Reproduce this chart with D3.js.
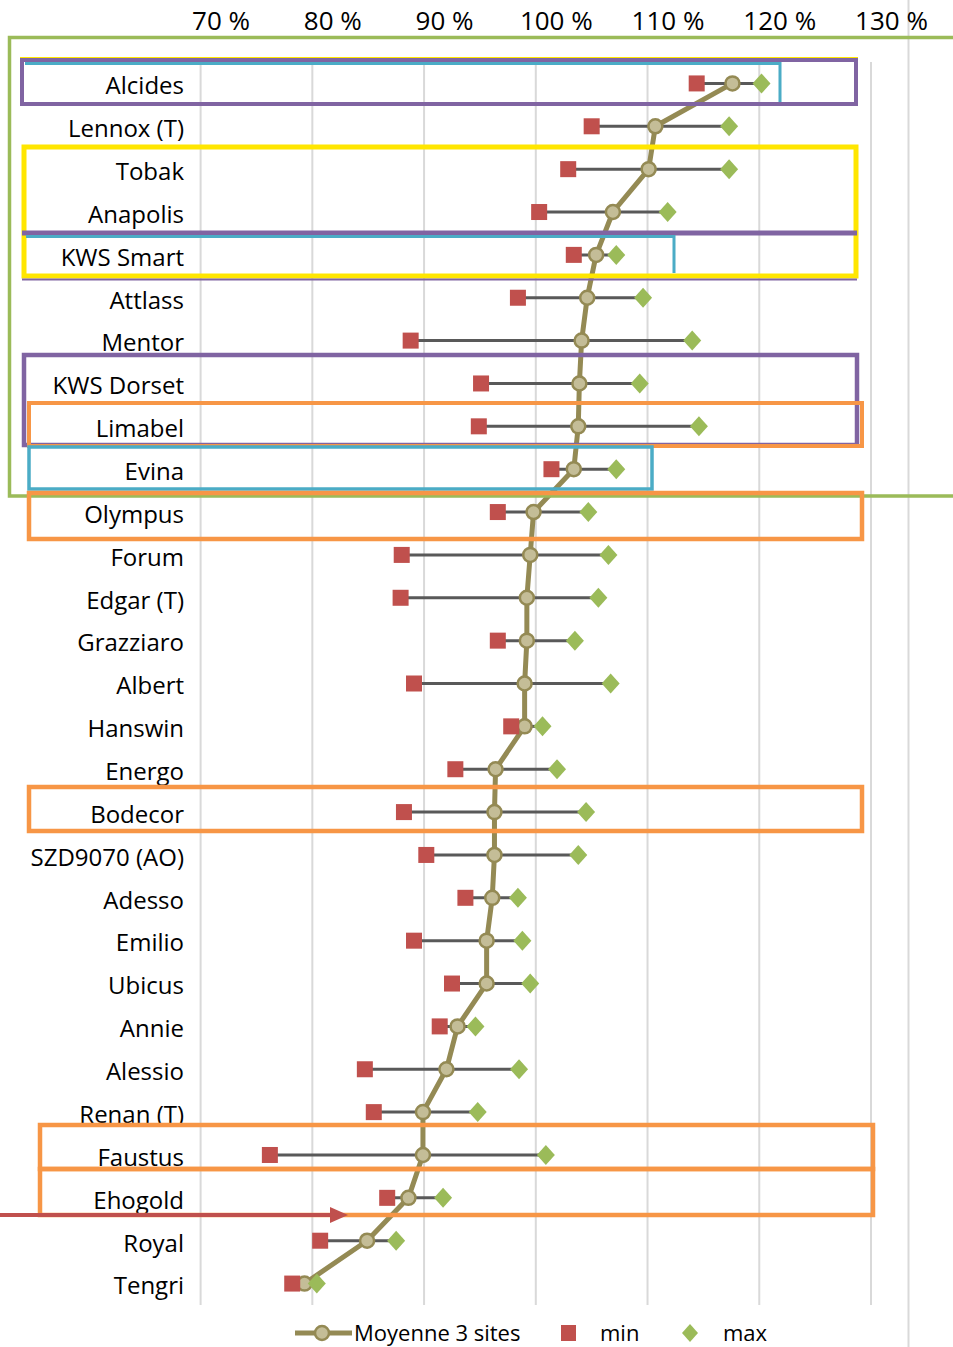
<!DOCTYPE html>
<html><head><meta charset="utf-8">
<script src="https://cdn.jsdelivr.net/npm/d3@7/dist/d3.min.js"></script>
<style>
html,body{margin:0;padding:0;background:#fff;}
svg{display:block;}
</style></head>
<body>
<script>
const varieties = ["Alcides","Lennox (T)","Tobak","Anapolis","KWS Smart","Attlass","Mentor","KWS Dorset","Limabel","Evina","Olympus","Forum","Edgar (T)","Grazziaro","Albert","Hanswin","Energo","Bodecor","SZD9070 (AO)","Adesso","Emilio","Ubicus","Annie","Alessio","Renan (T)","Faustus","Ehogold","Royal","Tengri"];
const moyenne = [117.6,110.7,110.1,106.9,105.4,104.6,104.1,103.9,103.8,103.4,99.8,99.5,99.2,99.2,99.0,99.0,96.4,96.3,96.3,96.1,95.6,95.6,93.0,92.0,89.9,89.9,88.6,84.9,79.3];
const minVals = [114.4,105.0,102.9,100.3,103.4,98.4,88.8,95.1,94.9,101.4,96.6,88.0,87.9,96.6,89.1,97.8,92.8,88.2,90.2,93.7,89.1,92.5,91.4,84.7,85.5,76.2,86.7,80.7,78.2];
const maxVals = [120.2,117.3,117.3,111.8,107.2,109.6,114.0,109.3,114.6,107.2,104.7,106.5,105.6,103.5,106.7,100.6,101.9,104.5,103.8,98.4,98.8,99.5,94.6,98.5,94.8,100.9,91.7,87.5,80.4];
const tickValues = [70,80,90,100,110,120,130];
const tickLabels = ["70  %","80 %","90 %","100  %","110 %","120 %","130 %"];
const legendLabels = ["Moyenne 3 sites","min","max"];

const W = 953, H = 1347;
const svg = d3.select("body").append("svg").attr("width", W).attr("height", H);

const x = d3.scaleLinear().domain([70,130]).range([200.6, 871]);
const y = d3.scaleBand().domain(varieties).range([62, 1305]);
const yc = d => y(d) + y.bandwidth()/2;

const FONT = "'Liberation Sans Narrow','Open Sans',sans-serif";

// chart area right border
svg.append("line").attr("x1",908.5).attr("x2",908.5).attr("y1",0).attr("y2",H)
  .attr("stroke","#d9d9d9").attr("stroke-width",2);

// gridlines
svg.append("g").selectAll("line").data(tickValues).join("line")
  .attr("x1",d=>x(d)).attr("x2",d=>x(d)).attr("y1",62).attr("y2",1305)
  .attr("stroke","#d9d9d9").attr("stroke-width",2);

// top axis labels
const axis = d3.axisTop(x).tickValues(tickValues).tickSize(0).tickFormat((d,i)=>tickLabels[i]);
const ag = svg.append("g").attr("transform","translate(20,30)").call(axis);
ag.select(".domain").remove();
ag.selectAll("text").attr("font-family",FONT).attr("font-size",26).attr("fill","#000").attr("dy",0).attr("y",0);

// category labels
const yAxis = d3.axisLeft(y).tickSize(0);
const yg = svg.append("g").attr("transform","translate(184,0)").call(yAxis);
yg.select(".domain").remove();
yg.selectAll("text").attr("font-family",FONT).attr("font-size",24).attr("fill","#000").attr("x",0).attr("dy","0.45em");

const rows = varieties.map((v,i)=>({v, m:moyenne[i], lo:minVals[i], hi:maxVals[i]}));

// min-max connector
svg.append("g").selectAll("line").data(rows).join("line")
  .attr("x1",d=>x(d.lo)).attr("x2",d=>x(d.hi)).attr("y1",d=>yc(d.v)).attr("y2",d=>yc(d.v))
  .attr("stroke","#595959").attr("stroke-width",3);

// mean line
const line = d3.line().x(d=>x(d.m)).y(d=>yc(d.v));
svg.append("path").datum(rows).attr("d",line).attr("fill","none")
  .attr("stroke","#948a54").attr("stroke-width",5).attr("stroke-linejoin","round");

svg.append("g").selectAll("circle").data(rows).join("circle")
  .attr("cx",d=>x(d.m)).attr("cy",d=>yc(d.v)).attr("r",7)
  .attr("fill","#c4bd97").attr("stroke","#948a54").attr("stroke-width",2.5);

// min squares
svg.append("g").selectAll("rect").data(rows).join("rect")
  .attr("x",d=>x(d.lo)-8).attr("y",d=>yc(d.v)-8).attr("width",16).attr("height",16)
  .attr("fill","#c0504d");

// max diamonds
svg.append("g").selectAll("path").data(rows).join("path")
  .attr("d",d=>{const cx=x(d.hi), cy=yc(d.v); return `M${cx},${cy-10}L${cx+9},${cy}L${cx},${cy+10}L${cx-9},${cy}Z`;})
  .attr("fill","#9bbb59");

// legend
const lg = svg.append("g").attr("transform","translate(0,1333)");
lg.append("line").attr("x1",295).attr("x2",352).attr("y1",0).attr("y2",0).attr("stroke","#948a54").attr("stroke-width",5);
lg.append("circle").attr("cx",322).attr("cy",0).attr("r",7).attr("fill","#c4bd97").attr("stroke","#948a54").attr("stroke-width",2.5);
lg.append("text").attr("x",354).attr("y",8).text(legendLabels[0]).attr("font-family",FONT).attr("font-size",22);
lg.append("rect").attr("x",561).attr("y",-8).attr("width",15).attr("height",16).attr("fill","#c0504d");
lg.append("text").attr("x",600).attr("y",8).text(legendLabels[1]).attr("font-family",FONT).attr("font-size",22);
lg.append("path").attr("d","M690,-9L698,0L690,9L682,0Z").attr("fill","#9bbb59");
lg.append("text").attr("x",723).attr("y",8).text(legendLabels[2]).attr("font-family",FONT).attr("font-size",22);

// annotation overlays
const ann = svg.append("g").attr("fill","none");
function box(x0,y0,x1,y1,col,w){ann.append("rect").attr("x",x0).attr("y",y0).attr("width",x1-x0).attr("height",y1-y0).attr("stroke",col).attr("stroke-width",w);}
const GREEN="#9bbb59", PURPLE="#8064a2", YELLOW="#ffe600", CYAN="#4bacc6", ORANGE="#f79646";
// green
ann.append("path").attr("d","M960,37.5L9.5,37.5L9.5,496L960,496").attr("stroke",GREEN).attr("stroke-width",3.5);
// Alcides
box(21,58,857,104,YELLOW,2);
box(22,60,856,104,PURPLE,4);
ann.append("path").attr("d","M25,63.5L780,63.5L780,102").attr("stroke",CYAN).attr("stroke-width",3);
// Tobak/Anapolis/KWS Smart
box(24,147,856,276,YELLOW,5);
ann.append("line").attr("x1",22).attr("x2",857).attr("y1",233).attr("y2",233).attr("stroke",PURPLE).attr("stroke-width",5);
ann.append("line").attr("x1",22).attr("x2",857).attr("y1",279.5).attr("y2",279.5).attr("stroke",PURPLE).attr("stroke-width",2);
ann.append("path").attr("d","M26,236.5L674,236.5L674,273").attr("stroke",CYAN).attr("stroke-width",3);
// KWS Dorset / Limabel
box(24,355,857,445,PURPLE,4.5);
box(29,403,862,446,ORANGE,4);
// Evina
box(29,447,652,489,CYAN,3.5);
// Olympus
box(29,493,862,539,ORANGE,4.5);
// Bodecor
box(29,787,862,831,ORANGE,4.5);
// Faustus / Ehogold
box(40,1125,873,1169,ORANGE,4.5);
box(40,1169,873,1215,ORANGE,4.5);
// red arrow
ann.append("line").attr("x1",0).attr("x2",332).attr("y1",1215).attr("y2",1215).attr("stroke","#c0504d").attr("stroke-width",4);
ann.append("path").attr("d","M330,1207L348,1215L330,1223Z").attr("fill","#c0504d");
</script>
</body></html>
